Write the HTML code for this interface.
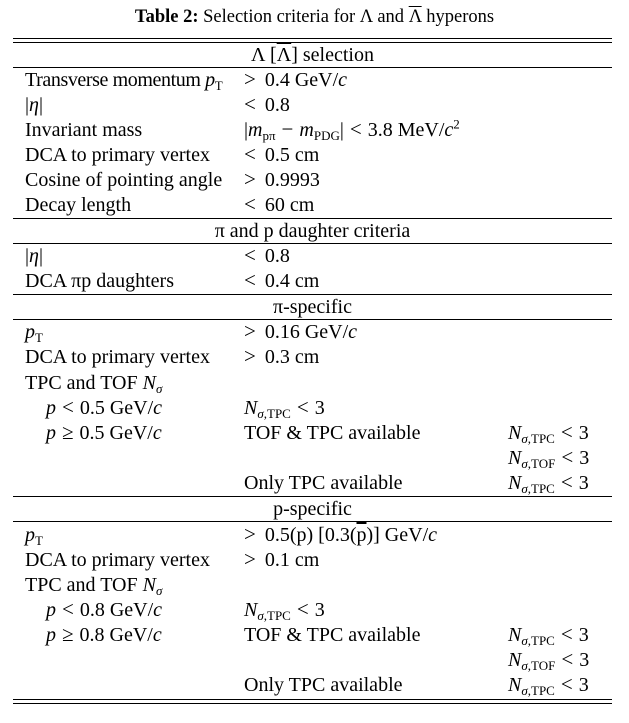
<!DOCTYPE html>
<html><head><meta charset="utf-8"><style>
body{margin:0;width:629px;height:723px;background:#fff;position:relative;font-family:"Liberation Serif",serif;color:#000;overflow:hidden}
.t{position:absolute;font-size:20px;line-height:22px;white-space:nowrap}
.l{left:25px}.m{left:244px}.r{left:508px}.s{left:46px}
.c{left:13px;width:599px;text-align:center}
.h{position:absolute;left:13px;width:599px;height:1px;background:#000}
i{font-style:italic}
sub{font-size:13px;vertical-align:-4px;line-height:0;font-style:normal}
.ov{text-decoration:overline}
.o{margin:0 6px;font-size:21px;line-height:0}
.o0{margin-right:9px;font-size:21px;line-height:0}
</style></head><body>
<div class="t" style="top:6px;left:0;width:629px;text-align:center;font-size:18.5px"><b>Table 2:</b> Selection criteria for Λ and <span class="ov">Λ</span> hyperons</div>
<div class="h" style="top:38px"></div><div class="h" style="top:42px"></div>
<div class="t c" style="top:44px">Λ [<span class="ov">Λ</span>] selection</div>
<div class="h" style="top:67px"></div>
<div class="t l" style="top:69px;letter-spacing:-0.4px">Transverse momentum <i>p</i><sub>T</sub></div><div class="t m" style="top:69px"><span class="o0">&gt;</span>0.4 GeV/<i>c</i></div>
<div class="t l" style="top:94px">|<i>η</i>|</div><div class="t m" style="top:94px"><span class="o0">&lt;</span>0.8</div>
<div class="t l" style="top:119px">Invariant mass</div><div class="t m" style="top:119px">|<i>m</i><sub>pπ</sub><span class="o">−</span><i>m</i><sub>PDG</sub>|<span class="o">&lt;</span>3.8 MeV/<i>c</i><sup style="font-size:13px;line-height:0">2</sup></div>
<div class="t l" style="top:144px">DCA to primary vertex</div><div class="t m" style="top:144px"><span class="o0">&lt;</span>0.5 cm</div>
<div class="t l" style="top:169px">Cosine of pointing angle</div><div class="t m" style="top:169px"><span class="o0">&gt;</span>0.9993</div>
<div class="t l" style="top:194px">Decay length</div><div class="t m" style="top:194px"><span class="o0">&lt;</span>60 cm</div>
<div class="h" style="top:218px"></div>
<div class="t c" style="top:220px">π and p daughter criteria</div>
<div class="h" style="top:243px"></div>
<div class="t l" style="top:245px">|<i>η</i>|</div><div class="t m" style="top:245px"><span class="o0">&lt;</span>0.8</div>
<div class="t l" style="top:270px">DCA πp daughters</div><div class="t m" style="top:270px"><span class="o0">&lt;</span>0.4 cm</div>
<div class="h" style="top:294px"></div>
<div class="t c" style="top:296px">π-specific</div>
<div class="h" style="top:319px"></div>
<div class="t l" style="top:321px"><i>p</i><sub>T</sub></div><div class="t m" style="top:321px"><span class="o0">&gt;</span>0.16 GeV/<i>c</i></div>
<div class="t l" style="top:346px">DCA to primary vertex</div><div class="t m" style="top:346px"><span class="o0">&gt;</span>0.3 cm</div>
<div class="t l" style="top:372px">TPC and TOF <i>N</i><sub><i>σ</i></sub></div>
<div class="t s" style="top:397px"><i>p</i><span class="o">&lt;</span>0.5 GeV/<i>c</i></div><div class="t m" style="top:397px"><i>N</i><sub><i>σ</i>,TPC</sub><span class="o">&lt;</span>3</div>
<div class="t s" style="top:422px"><i>p</i><span class="o">≥</span>0.5 GeV/<i>c</i></div><div class="t m" style="top:422px">TOF &amp; TPC available</div><div class="t r" style="top:422px"><i>N</i><sub><i>σ</i>,TPC</sub><span class="o">&lt;</span>3</div>
<div class="t r" style="top:447px"><i>N</i><sub><i>σ</i>,TOF</sub><span class="o">&lt;</span>3</div>
<div class="t m" style="top:472px">Only TPC available</div><div class="t r" style="top:472px"><i>N</i><sub><i>σ</i>,TPC</sub><span class="o">&lt;</span>3</div>
<div class="h" style="top:496px"></div>
<div class="t c" style="top:498px">p-specific</div>
<div class="h" style="top:521px"></div>
<div class="t l" style="top:524px"><i>p</i><sub>T</sub></div><div class="t m" style="top:524px"><span class="o0">&gt;</span>0.5(p) [0.3(<span class="ov">p</span>)] GeV/<i>c</i></div>
<div class="t l" style="top:549px">DCA to primary vertex</div><div class="t m" style="top:549px"><span class="o0">&gt;</span>0.1 cm</div>
<div class="t l" style="top:574px">TPC and TOF <i>N</i><sub><i>σ</i></sub></div>
<div class="t s" style="top:599px"><i>p</i><span class="o">&lt;</span>0.8 GeV/<i>c</i></div><div class="t m" style="top:599px"><i>N</i><sub><i>σ</i>,TPC</sub><span class="o">&lt;</span>3</div>
<div class="t s" style="top:624px"><i>p</i><span class="o">≥</span>0.8 GeV/<i>c</i></div><div class="t m" style="top:624px">TOF &amp; TPC available</div><div class="t r" style="top:624px"><i>N</i><sub><i>σ</i>,TPC</sub><span class="o">&lt;</span>3</div>
<div class="t r" style="top:649px"><i>N</i><sub><i>σ</i>,TOF</sub><span class="o">&lt;</span>3</div>
<div class="t m" style="top:674px">Only TPC available</div><div class="t r" style="top:674px"><i>N</i><sub><i>σ</i>,TPC</sub><span class="o">&lt;</span>3</div>
<div class="h" style="top:699px"></div><div class="h" style="top:703px"></div>
</body></html>
